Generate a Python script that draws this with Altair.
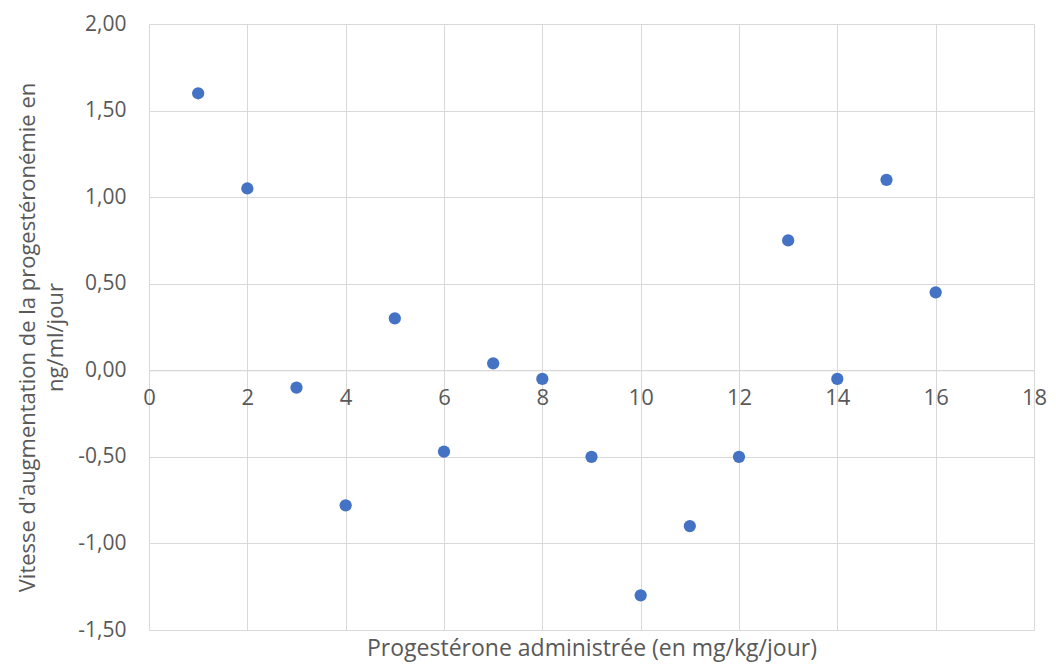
import altair as alt
import pandas as pd

doses = [1, 2, 3, 4, 5, 6, 7, 8, 9, 10, 11, 12, 13, 14, 15, 16]
vitesses = [1.60, 1.05, -0.10, -0.78, 0.30, -0.47, 0.04, -0.05, -0.50, -1.30, -0.90, -0.50, 0.75, -0.05, 1.10, 0.45]
x_ticks = [0, 2, 4, 6, 8, 10, 12, 14, 16, 18]
y_ticks = [-1.5, -1.0, -0.5, 0.0, 0.5, 1.0, 1.5, 2.0]
x_title = "Progestérone administrée (en mg/kg/jour)"
y_title = ["Vitesse d'augmentation de la progestéronémie en", "ng/ml/jour"]

df = pd.DataFrame({"dose": doses, "vitesse": vitesses})

W, H = 885, 606
Y_MIN, Y_MAX = -1.5, 2.0
zero_from_bottom = H * (0 - Y_MIN) / (Y_MAX - Y_MIN)

FONT = "Open Sans"
GREY = "#595959"
GRID = "#d9d9d9"

label_expr = "(datum.value < 0 ? '-' : '') + replace(format(abs(datum.value), '.2f'), '.', ',')"

chart = alt.Chart(df).mark_circle(size=150, color="#4472C4", opacity=1).encode(
    x=alt.X(
        "dose:Q",
        scale=alt.Scale(domain=[0, 18], nice=False, zero=False),
        axis=alt.Axis(
            values=x_ticks,
            offset=-zero_from_bottom,
            grid=True,
            gridColor=GRID,
            domainColor=GRID,
            ticks=False,
            tickSize=0,
            labelFlush=False,
            labelOverlap=False,
            labelPadding=17,
            labelFont=FONT,
            labelFontSize=22,
            labelColor=GREY,
            title=x_title,
            titleFont=FONT,
            titleFontSize=23,
            titleFontWeight="normal",
            titleColor=GREY,
            titleBaseline="middle",
            titleY=zero_from_bottom + 18,
        ),
    ),
    y=alt.Y(
        "vitesse:Q",
        scale=alt.Scale(domain=[Y_MIN, Y_MAX], nice=False, zero=False),
        axis=alt.Axis(
            values=y_ticks,
            grid=True,
            gridColor=GRID,
            domain=False,
            ticks=False,
            tickSize=0,
            labelPadding=23,
            labelExpr=label_expr,
            labelFont=FONT,
            labelFontSize=21,
            labelColor=GREY,
            title=y_title,
            titleFont=FONT,
            titleFontSize=22,
            titleFontWeight="normal",
            titleColor=GREY,
            titleAngle=-90,
            titleBaseline="middle",
            titleAlign="center",
            titleLineHeight=28,
            titleX=-122,
            titleY=H / 2 + 10,
        ),
    ),
).properties(
    width=W,
    height=H,
    autosize=alt.AutoSizeParams(type="none"),
    padding={"left": 141, "top": 16, "right": 14, "bottom": 32},
).configure_view(stroke=None).configure(background="white")

chart.save("out.html", embed_options={"renderer": "svg", "actions": False})
